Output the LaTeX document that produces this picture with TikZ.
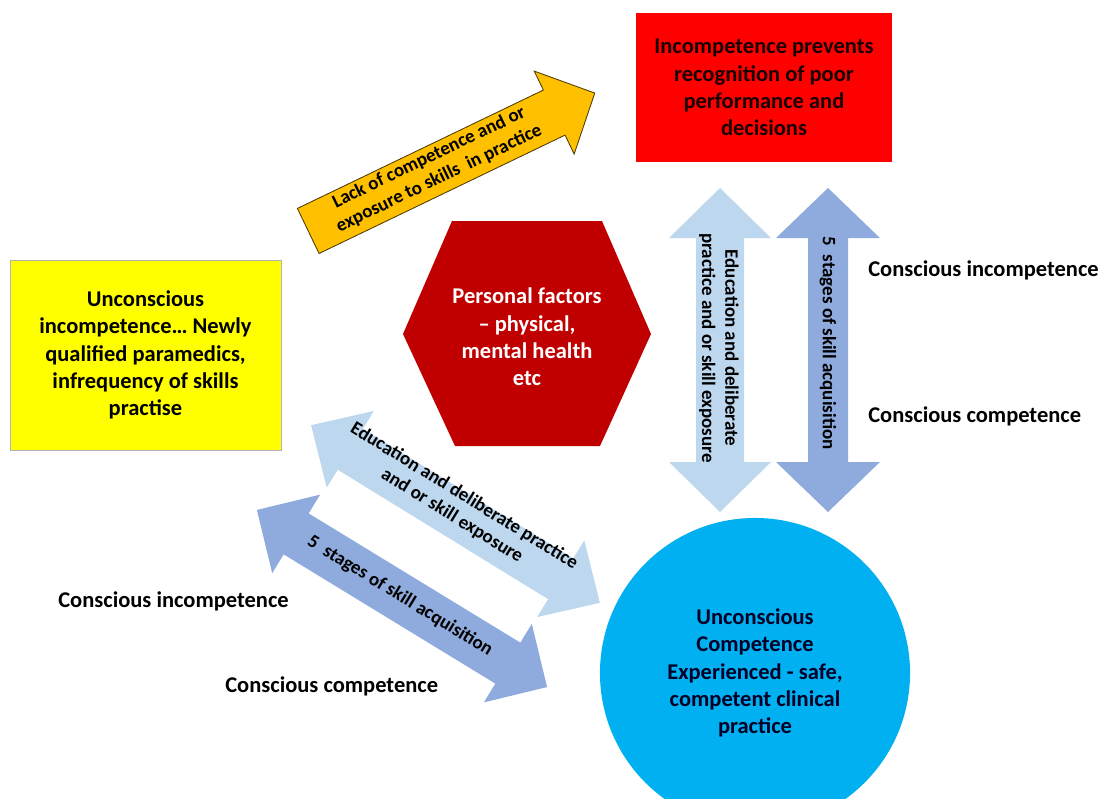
\documentclass[tikz,border=0pt]{standalone}
\usepackage{fontspec}
\setmainfont{Carlito}
\usepackage{tikz}

\definecolor{boxyellow}{HTML}{FFFF00}
\definecolor{boxred}{HTML}{FF0000}
\definecolor{hexred}{HTML}{C00000}
\definecolor{circblue}{HTML}{00B0F0}
\definecolor{arrorange}{HTML}{FFC000}
\definecolor{arrlight}{HTML}{BDD7EE}
\definecolor{arrdark}{HTML}{8FAADC}

% fat arrow outlines, centred on the origin and pointing along x
% #1 length, #2 shaft half width, #3 head half width, #4 head length
\newcommand{\dblshape}[4]{(-#1/2,0) -- (-#1/2+#4,#3) -- (-#1/2+#4,#2) -- (#1/2-#4,#2) -- (#1/2-#4,#3) -- (#1/2,0)
    -- (#1/2-#4,-#3) -- (#1/2-#4,-#2) -- (-#1/2+#4,-#2) -- (-#1/2+#4,-#3) -- cycle}
\newcommand{\oneshape}[4]{(-#1/2,#2) -- (#1/2-#4,#2) -- (#1/2-#4,#3) -- (#1/2,0)
    -- (#1/2-#4,-#3) -- (#1/2-#4,-#2) -- (-#1/2,-#2) -- cycle}

\begin{document}
\begin{tikzpicture}[x=0.025cm, y=-0.025cm,
    txt/.style={font=\bfseries\fontsize{16}{19.5}\selectfont, align=center},
    arrtxt/.style={font=\bfseries\fontsize{13.5}{16.5}\selectfont, align=center, inner sep=0},
    lbl/.style={font=\bfseries\fontsize{16}{19.5}\selectfont, anchor=west, inner sep=0}]

    \useasboundingbox (0,0) rectangle (1119,798);
    \clip (0,0) rectangle (1119,798);

    % boxes
    \node[txt, draw=gray!60, fill=boxyellow, minimum width=6.775cm, minimum height=4.75cm] (unconsc) at (145.5,355)
        {Unconscious\\incompetence\dots\ Newly\\qualified paramedics,\\infrequency of skills\\practise};
    \node[txt, fill=boxred, text=black!90!red, minimum width=6.4cm, minimum height=3.725cm] (poor) at (764,87.5)
        {Incompetence prevents\\recognition of poor\\performance and\\decisions};
    \fill[hexred] (403,334) -- (452,221) -- (602,221) -- (651,334) -- (600,446) -- (455,446) -- cycle;
    \node[txt, text=white] (personal) at (527,337) {Personal factors\\-- physical,\\mental health\\etc};
    \node[txt, circle, fill=circblue, minimum size=7.75cm, text=black!85!blue] (consc) at (755,673)
        {Unconscious\\Competence\\Experienced - safe,\\competent clinical\\practice};

    % arrows
    \begin{scope}[shift={(451.5,162)}, rotate=25.7]
        \filldraw[fill=arrorange, draw=black!70!arrorange, line width=0.6pt] \oneshape{318}{25}{46}{45};
    \end{scope}
    \node[arrtxt, rotate=25.7] (lack) at (434,168) {Lack of competence and or\\exposure to skills\ \ in practice};

    \begin{scope}[shift={(720,350)}, rotate=90]
        \fill[arrlight] \dblshape{324}{24}{51}{50};
    \end{scope}
    \node[arrtxt, rotate=-90] (educv) at (719,348) {Education and deliberate\\practice and or skill exposure};

    \begin{scope}[shift={(828,350)}, rotate=90]
        \fill[arrdark] \dblshape{324}{20}{52}{50};
    \end{scope}
    \node[arrtxt, rotate=-90] (stagesv) at (828,343) {5\ \ stages of skill acquisition};

    \begin{scope}[shift={(455.5,514)}, rotate=-31.6]
        \fill[arrlight] \dblshape{339}{24}{45}{46};
    \end{scope}
    \node[arrtxt, rotate=-31.6] (educd) at (458,506) {Education and deliberate practice\\and or skill exposure};

    \begin{scope}[shift={(402,598.5)}, rotate=-31.4]
        \fill[arrdark] \dblshape{340}{24}{46}{46};
    \end{scope}
    \node[arrtxt, rotate=-31.4] (stagesd) at (400,596) {5\ \ stages of skill acquisition};

    % stage labels
    \node[lbl] (ciright) at (868,270) {Conscious incompetence};
    \node[lbl] (ccright) at (868,416) {Conscious competence};
    \node[lbl] (cileft) at (58,601) {Conscious incompetence};
    \node[lbl] (ccleft) at (225,686) {Conscious competence};

\end{tikzpicture}
\end{document}
